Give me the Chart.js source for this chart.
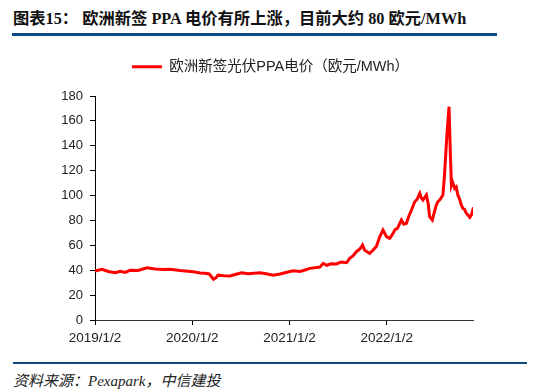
<!DOCTYPE html>
<html>
<head>
<meta charset="utf-8">
<script src="https://cdn.jsdelivr.net/npm/chart.js@4"></script>
<style>
  body { margin: 0; width: 554px; height: 391px; background: #fff; position: relative; overflow: hidden; }
  .title { position: absolute; left: 13px; top: 9px; font: bold 16.3px/20px "Liberation Serif", "Noto Sans CJK SC", serif; color: #111; white-space: nowrap; }
  .rule-top { position: absolute; left: 12px; top: 33px; width: 485px; height: 3px; background: #114b84; }
  .rule-bottom { position: absolute; left: 13px; top: 362px; width: 514px; height: 2px; background: #114b84; }
  .source { position: absolute; left: 13px; top: 372px; font: italic 15px/18px "Liberation Serif", "Noto Sans CJK SC", serif; color: #222; white-space: nowrap; }
  .wrap { position: absolute; left: 0; top: 36px; width: 541px; height: 319px; }
</style>
</head>
<body>
<div class="title">图表15： 欧洲新签 PPA 电价有所上涨，目前大约 80 欧元/MWh</div>
<div class="rule-top"></div>
<div class="wrap"><canvas id="ppaChart"></canvas></div>
<div class="rule-bottom"></div>
<div class="source">资料来源：Pexapark，中信建投</div>
<script>
const seriesName = "欧洲新签光伏PPA电价（欧元/MWh）";
const tickLabels = ["2019/1/2", "2020/1/2", "2021/1/2", "2022/1/2"];
const yTicks = [0, 20, 40, 60, 80, 100, 120, 140, 160, 180];
const axisEnd = "2022-11-22";

// dates and prices
const dates = [
  "2019-01-02", "2019-01-28", "2019-02-21", "2019-03-19", "2019-04-07", "2019-04-26",
  "2019-05-14", "2019-06-13", "2019-07-16", "2019-08-16", "2019-09-15", "2019-10-11",
  "2019-11-18", "2020-01-06", "2020-02-01", "2020-02-20", "2020-03-06", "2020-03-22",
  "2020-04-01", "2020-04-08", "2020-05-01", "2020-05-23", "2020-06-15", "2020-07-06",
  "2020-07-30", "2020-08-21", "2020-09-13", "2020-10-06", "2020-11-02", "2020-11-27",
  "2020-12-23", "2021-01-16", "2021-02-10", "2021-03-01", "2021-03-19", "2021-04-07",
  "2021-04-26", "2021-05-08", "2021-05-22", "2021-06-06", "2021-06-27", "2021-07-14",
  "2021-08-04", "2021-08-16", "2021-08-28", "2021-09-10", "2021-09-23", "2021-10-03",
  "2021-10-11", "2021-10-23", "2021-10-30", "2021-11-11", "2021-11-24", "2021-12-07",
  "2021-12-19", "2022-01-01", "2022-01-13", "2022-01-24", "2022-02-01", "2022-02-12",
  "2022-02-26", "2022-03-07", "2022-03-17", "2022-03-25", "2022-04-05", "2022-04-17",
  "2022-04-26", "2022-05-06", "2022-05-12", "2022-05-18", "2022-05-31", "2022-06-07",
  "2022-06-12", "2022-06-22", "2022-06-29", "2022-07-07", "2022-07-13", "2022-07-22",
  "2022-08-01", "2022-08-07", "2022-08-16", "2022-08-24", "2022-08-29", "2022-09-02",
  "2022-09-06", "2022-09-14", "2022-09-20", "2022-09-26", "2022-10-03", "2022-10-08",
  "2022-10-15", "2022-10-21", "2022-10-27", "2022-11-03", "2022-11-10", "2022-11-17",
  "2022-11-24"
];
const prices = [
  39.4, 40.7, 39.0, 38.0, 39.2, 38.2,
  40.0, 39.8, 42.0, 41.0, 40.5, 40.8,
  39.8, 38.8, 37.8, 37.5, 37.0, 32.7,
  34.0, 36.0, 35.5, 35.4, 36.8, 38.0,
  37.2, 37.6, 38.0, 37.2, 36.0, 37.0,
  38.4, 39.6, 39.0, 40.2, 41.5, 42.0,
  42.5, 45.5, 44.0, 45.2, 45.0, 46.5,
  46.0, 49.6, 51.5, 54.9, 57.0, 60.3,
  56.0, 54.5, 53.6, 56.0, 59.0, 67.0,
  72.3, 67.0, 65.6, 69.0, 72.3, 74.0,
  80.4, 77.0, 77.7, 83.0, 88.4, 95.0,
  97.0, 101.8, 98.0, 96.4, 100.4, 93.0,
  83.0, 80.4, 86.0, 92.4, 95.0, 97.0,
  100.4, 116.5, 148.7, 171.4, 132.6, 108.5,
  111.0, 105.8, 107.0, 100.4, 97.0, 93.0,
  89.7, 89.0, 86.0, 84.4, 82.5, 85.0,
  90.5
];

const DAY = 86400000;
const base = Date.UTC(2019, 0, 2);
const toDay = (s) => {
  const p = s.split(/[-\/]/).map(Number);
  return Math.round((Date.UTC(p[0], p[1] - 1, p[2]) - base) / DAY);
};
const tickDays = tickLabels.map(toDay);
const points = dates.map((d, i) => ({ x: toDay(d), y: prices[i] }));

Chart.defaults.font.family = '"Liberation Sans", Arial, "Noto Sans CJK SC", sans-serif';
Chart.defaults.color = "#222";

// the reference legend sits right of the plot centre, with a larger gap below it
const legendTweak = {
  id: "legendTweak",
  afterInit(chart) {
    const legend = chart.legend;
    const fit = legend.fit.bind(legend);
    legend.fit = () => {
      fit();
      legend.height += 12;
    };
  },
  afterLayout(chart) {
    chart.legend.left = 68;
  },
};

new Chart(document.getElementById("ppaChart"), {
  type: "line",
  data: {
    datasets: [
      {
        label: seriesName,
        data: points,
        borderColor: "#ff0000",
        backgroundColor: "#ff0000",
        borderWidth: 3,
        pointRadius: 0,
        tension: 0,
      },
    ],
  },
  plugins: [legendTweak],
  options: {
    responsive: true,
    maintainAspectRatio: false,
    animation: false,
    layout: { padding: { left: 0, right: 68, top: 0, bottom: 0 } },
    plugins: {
      tooltip: { enabled: false },
      legend: {
        display: true,
        position: "top",
        labels: {
          usePointStyle: true,
          pointStyle: "line",
          pointStyleWidth: 30,
          font: { size: 14.5 },
          color: "#222",
          padding: 23.5,
        },
      },
    },
    scales: {
      x: {
        type: "linear",
        min: 0,
        max: toDay(axisEnd),
        afterBuildTicks: (scale) => {
          scale.ticks = tickDays.map((v) => ({ value: v }));
        },
        afterFit: (scale) => {
          scale.height = 35;
        },
        ticks: {
          autoSkip: false,
          maxRotation: 0,
          padding: 5,
          font: { size: 13.5 },
          callback: (v) => tickLabels[tickDays.indexOf(v)],
        },
        grid: { drawOnChartArea: false, drawTicks: true, tickLength: 5, color: "#000" },
        border: { color: "#333", width: 1 },
      },
      y: {
        min: 0,
        max: 180,
        afterBuildTicks: (scale) => {
          scale.ticks = yTicks.map((v) => ({ value: v }));
        },
        afterFit: (scale) => {
          scale.width = 95;
        },
        ticks: { padding: 7, font: { size: 13 } },
        grid: { drawOnChartArea: false, drawTicks: true, tickLength: 5, color: "#000" },
        border: { color: "#000", width: 1 },
      },
    },
  },
});
</script>
</body>
</html>
